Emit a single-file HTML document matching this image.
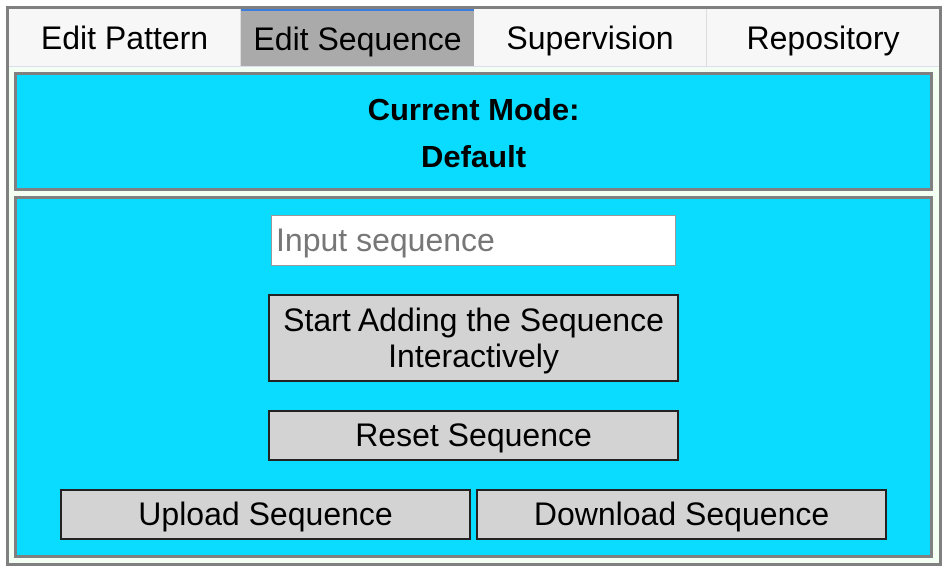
<!DOCTYPE html>
<html><head><style>
body{margin:0;width:948px;height:572px;background:#fff;font-family:"Liberation Sans",sans-serif;position:relative;overflow:hidden}
.a{position:absolute;box-sizing:border-box}
.tab{top:9px;height:57px;font-size:32px;line-height:58px;text-align:center;color:#000}
.btn{background:#d3d3d3;border:2px solid #222;font-size:32px;text-align:center;color:#000}
</style></head><body>
<div class="a" style="left:6px;top:6px;width:936px;height:560px;border:3px solid #808080;background:#f2fff2"></div>
<div class="a tab" style="left:9px;width:232px;background:#f7f7f7;border-right:1px solid #ddd">Edit Pattern</div>
<div class="a tab" style="left:241px;width:233px;background:#aaa;border-top:2px solid #3b7ddd;line-height:56px">Edit Sequence</div>
<div class="a tab" style="left:474px;width:233px;background:#f7f7f7;border-right:1px solid #ddd">Supervision</div>
<div class="a tab" style="left:707px;width:232px;background:#f7f7f7">Repository</div>
<div class="a" style="left:9px;top:66px;width:930px;height:1px;background:#dde"></div>
<div class="a" style="left:14px;top:72px;width:919px;height:119px;border:3px solid #808080;background:#0adcff;text-align:center;font-weight:bold;font-size:31px;line-height:47px;padding-top:11px">Current Mode:<br>Default</div>
<div class="a" style="left:14px;top:196px;width:919px;height:362px;border:3px solid #808080;background:#0adcff"></div>
<div class="a" style="left:271px;top:215px;width:405px;height:51px;background:#fff;border:1px solid #999;font-size:32px;color:#777;line-height:49px;padding-left:4px">Input sequence</div>
<div class="a btn" style="left:268px;top:294px;width:411px;height:88px;line-height:36px;padding-top:6px">Start Adding the Sequence<br>Interactively</div>
<div class="a btn" style="left:268px;top:410px;width:411px;height:51px;line-height:47px">Reset Sequence</div>
<div class="a btn" style="left:60px;top:489px;width:411px;height:51px;line-height:47px">Upload Sequence</div>
<div class="a btn" style="left:476px;top:489px;width:411px;height:51px;line-height:47px">Download Sequence</div>
</body></html>
